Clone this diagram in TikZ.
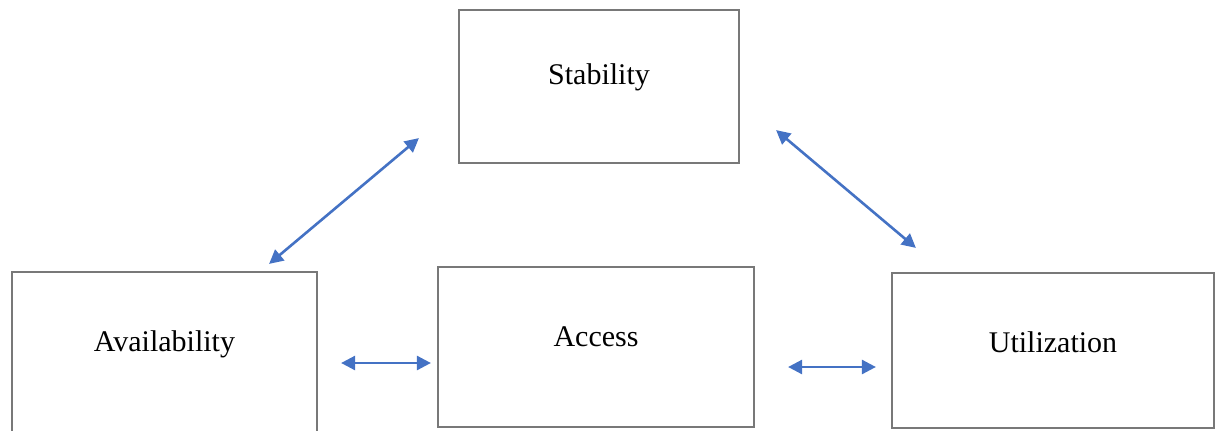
\documentclass[tikz,border=0pt]{standalone}
\usepackage{fontspec}
\setmainfont{Liberation Serif}
\usetikzlibrary{arrows.meta,positioning}
\definecolor{linkblue}{RGB}{68,114,196}
\definecolor{boxgray}{RGB}{120,120,120}

\begin{document}
\begin{tikzpicture}[
    x=0.5pt, y=0.5pt,
    every node/.style={font=\fontsize{15}{18}\selectfont},
    box/.style={draw=boxgray, line width=1.1pt, rectangle, inner sep=0pt},
    link/.style={draw=linkblue, line width=1.3pt,
        {Triangle[length=7pt,width=7pt]}-{Triangle[length=7pt,width=7pt]}}
]

% Page size (the Availability box runs past the lower edge)
\clip (0,0) rectangle (1215,430);

% Stability (top)
\node[box, minimum width=140pt, minimum height=76.5pt,
    label={[yshift=4.75pt]center:Stability}] (stab) at (599,343.5) {};

% Availability (left)
\node[box, minimum width=152.5pt, minimum height=90pt,
    label={[yshift=9pt]center:Availability}] (avail) at (164.5,68) {};

% Access (middle)
\node[box, minimum width=158pt, minimum height=80pt,
    label={[yshift=5pt]center:Access}] (access) at (596,83) {};

% Utilization (right)
\node[box, minimum width=161pt, minimum height=77.5pt,
    label={[yshift=4.25pt]center:Utilization}] (util) at (1053,79.5) {};

% Two-way links
\draw[link] ([shift={(-49,7)}]avail.north east) -- ([shift={(-39,26)}]stab.south west);
\draw[link] ([shift={(36,34)}]stab.south east) -- ([shift={(25,24)}]util.north west);
\draw[link] ([shift={(23,-1)}]avail.east) -- ([shift={(-6,-16)}]access.west);
\draw[link] ([shift={(33,-20)}]access.east) -- ([shift={(-15,-16.5)}]util.west);

\end{tikzpicture}
\end{document}
